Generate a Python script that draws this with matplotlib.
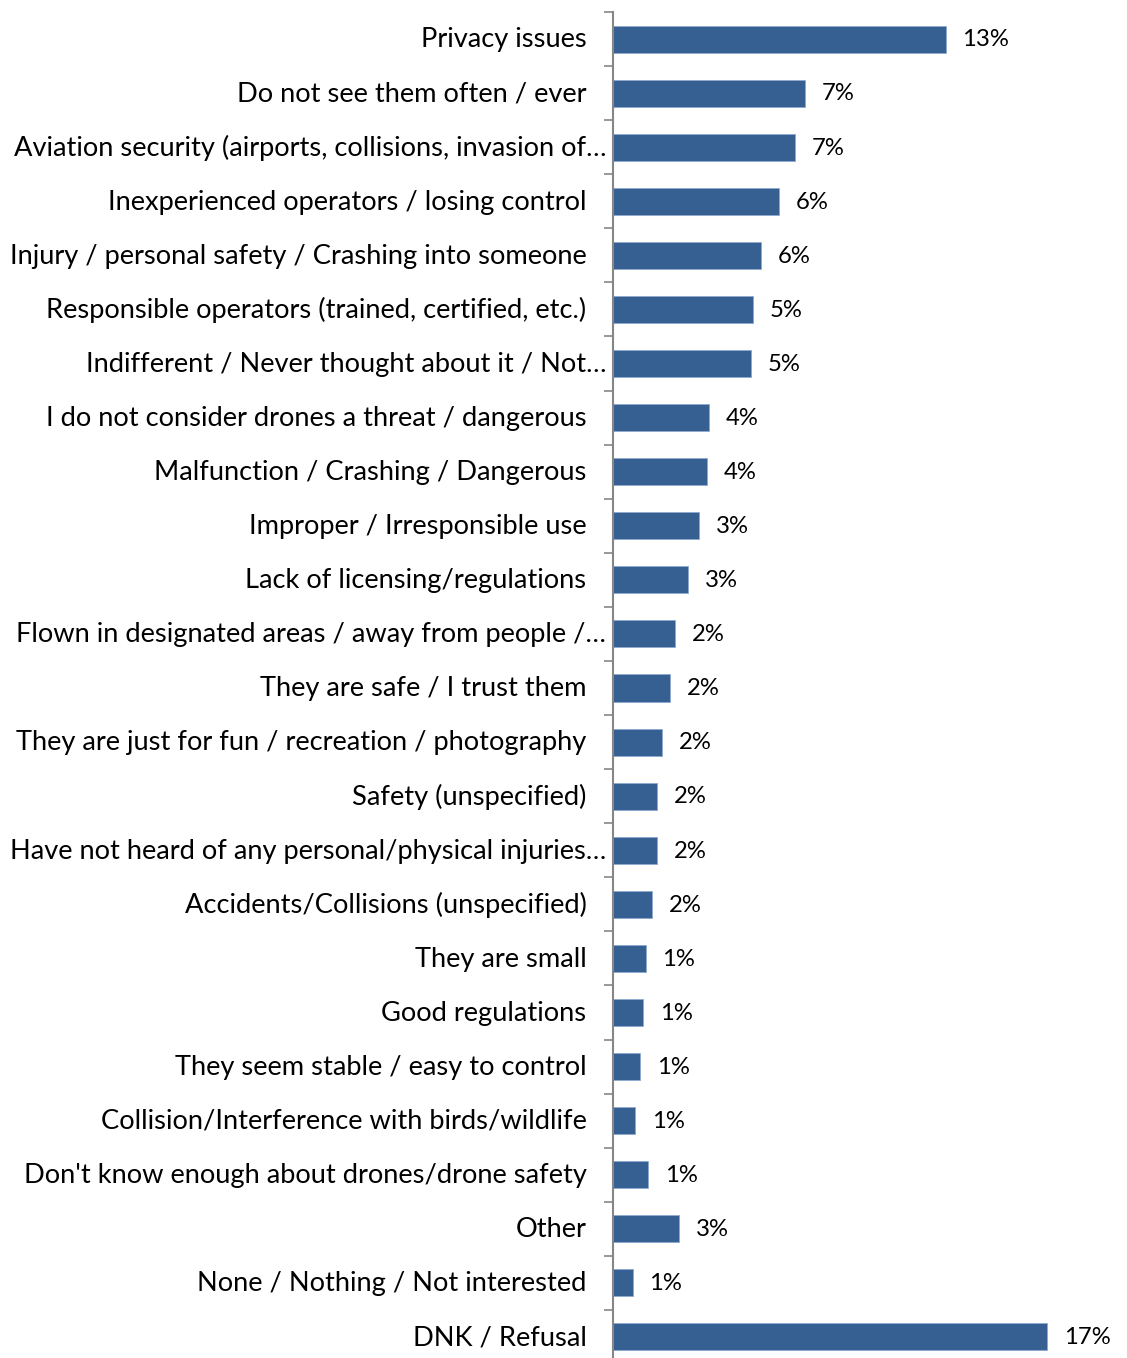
import numpy as np
import matplotlib.pyplot as plt

# categories, top to bottom
categories = [
    'Privacy issues',
    'Do not see them often / ever',
    'Aviation security (airports, collisions, invasion of\u2026',
    'Inexperienced operators / losing control',
    'Injury / personal safety / Crashing into someone',
    'Responsible operators (trained, certified, etc.)',
    'Indifferent / Never thought about it / Not\u2026',
    'I do not consider drones a threat / dangerous',
    'Malfunction / Crashing / Dangerous',
    'Improper / Irresponsible use',
    'Lack of licensing/regulations',
    'Flown in designated areas / away from people /\u2026',
    'They are safe / I trust them',
    'They are just for fun / recreation / photography',
    'Safety (unspecified)',
    'Have not heard of any personal/physical injuries\u2026',
    'Accidents/Collisions (unspecified)',
    'They are small',
    'Good regulations',
    'They seem stable / easy to control',
    'Collision/Interference with birds/wildlife',
    "Don't know enough about drones/drone safety",
    'Other',
    'None / Nothing / Not interested',
    'DNK / Refusal',
]

# share of respondents, %
values = [12.8, 7.4, 7.0, 6.4, 5.7, 5.4, 5.3, 3.7, 3.6, 3.3, 2.9, 2.4, 2.2,
          1.9, 1.7, 1.7, 1.5, 1.25, 1.15, 1.05, 0.85, 1.35, 2.55, 0.75, 16.7]

fam = 'Lato'

fig = plt.figure(figsize=(11.27, 13.58), dpi=100)
ax = fig.add_axes([613 / 1127, 1 - 1364 / 1358, 507 / 1127, 1352 / 1358])

y = np.arange(len(categories))
ax.barh(y, values, height=0.5, color='#376092', edgecolor='#8eaad0',
        linewidth=0.6)

ax.set_xlim(0, 19.5)
ax.set_ylim(len(categories) - 0.5, -0.5)

for s in ['top', 'right', 'bottom']:
    ax.spines[s].set_visible(False)
ax.spines['left'].set_color('#868686')
ax.spines['left'].set_linewidth(1.5)
ax.set_xticks([])

# ticks sit between categories
ax.set_yticks(np.arange(len(categories) + 1) - 0.5)
ax.set_yticklabels([])
ax.tick_params(axis='y', direction='out', length=6.5, width=1.2,
               color='#868686')

for i, (cat, v) in enumerate(zip(categories, values)):
    # truncated labels run closer to the axis
    pad = -5 if cat.endswith('\u2026') else -19
    ax.annotate(cat, xy=(0, i), xycoords=('axes fraction', 'data'),
                xytext=(pad, -0.6), textcoords='offset points',
                ha='right', va='center', fontsize=19.6, family=fam,
                color='black', annotation_clip=False)
    ax.annotate('{:.0f}%'.format(v), xy=(v, i), xytext=(12, -0.6),
                textcoords='offset points', ha='left', va='center',
                fontsize=17.2, family=fam, color='black',
                annotation_clip=False)

fig.savefig('out.png', dpi=100)
